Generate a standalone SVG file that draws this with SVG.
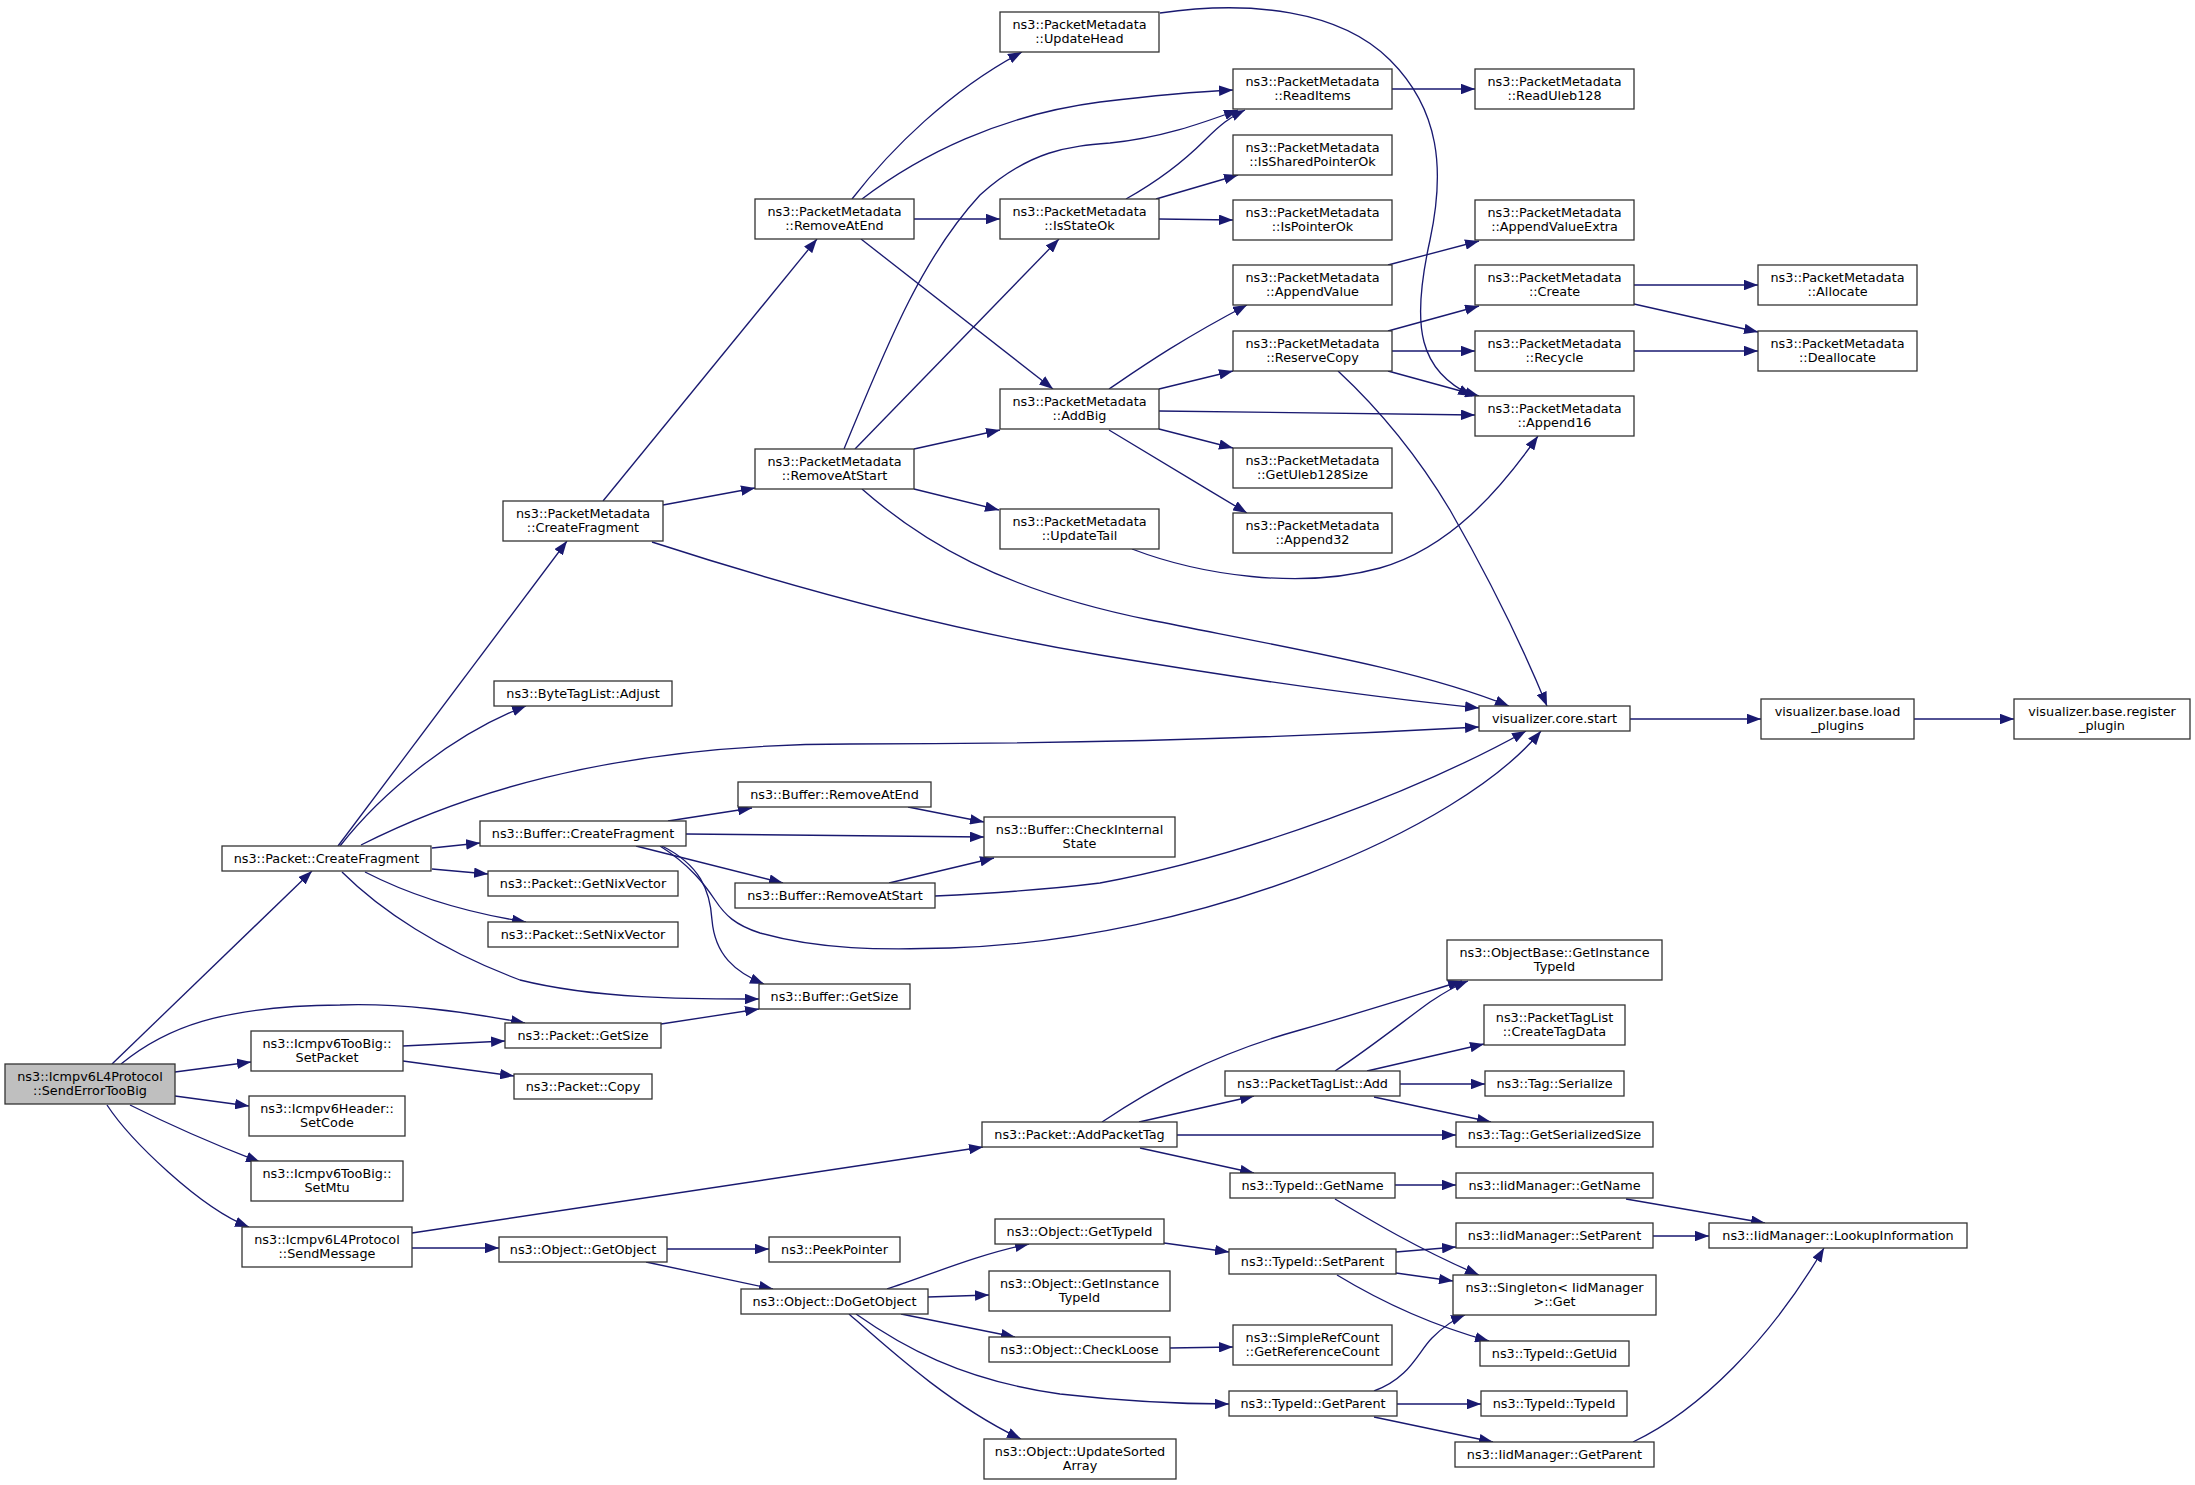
<svg xmlns="http://www.w3.org/2000/svg" width="2195" height="1485" viewBox="0 0 2195 1485">
<defs>
<marker id="a" viewBox="0 0 14 10.5" markerWidth="14" markerHeight="10.5" refX="14" refY="5.25" orient="auto" markerUnits="userSpaceOnUse"><path d="M0,0L14,5.25L0,10.5z" fill="#191970"/></marker>
</defs>
<style>
.n rect{fill:#ffffff;stroke:#333333;stroke-width:1.3}
.n.root rect{fill:#bfbfbf}
.n text{font-family:"DejaVu Sans",sans-serif;font-size:12.8px;text-anchor:middle;fill:#000000}
#edges path{fill:none;stroke:#191970;stroke-width:1.33;marker-end:url(#a)}
</style>
<rect x="0" y="0" width="2195" height="1485" fill="#ffffff"/>
<g id="edges">
<path d="M112,1064 L312,871"/>
<path d="M121,1064 C165,1028 220,1006 340,1005 C400,1003 460,1011 525,1023"/>
<path d="M175,1072 L251,1062"/>
<path d="M175,1096 L249,1106"/>
<path d="M130,1105 C160,1120 200,1139 260,1162"/>
<path d="M107,1105 C130,1140 200,1208 249,1227"/>
<path d="M403,1046 L505,1041"/>
<path d="M403,1061 L514,1076"/>
<path d="M661,1024 L759,1009"/>
<path d="M412,1233 L983,1147"/>
<path d="M412,1248 L499,1248"/>
<path d="M667,1249 L769,1249"/>
<path d="M646,1262 L773,1289"/>
<path d="M887,1289 C925,1277 975,1255 1029,1244"/>
<path d="M928,1297 L989,1295"/>
<path d="M901,1314 L1015,1337"/>
<path d="M856,1314 C900,1345 960,1380 1060,1394 C1130,1402 1180,1404 1229,1404"/>
<path d="M849,1314 C890,1350 950,1405 1021,1439"/>
<path d="M1164,1243 L1229,1252"/>
<path d="M1170,1348 L1233,1347"/>
<path d="M1102,1122 C1150,1090 1210,1055 1300,1030 C1360,1013 1410,997 1462,981"/>
<path d="M1335,1071 C1370,1048 1405,1020 1430,1002 C1445,992 1455,986 1468,981"/>
<path d="M1139,1122 L1254,1096"/>
<path d="M1177,1135 L1456,1135"/>
<path d="M1140,1148 L1254,1173"/>
<path d="M1367,1071 L1484,1044"/>
<path d="M1400,1084 L1485,1084"/>
<path d="M1374,1097 L1491,1122"/>
<path d="M1395,1185 L1456,1185"/>
<path d="M1335,1199 C1370,1220 1420,1250 1479,1275"/>
<path d="M1396,1252 L1456,1247"/>
<path d="M1396,1273 L1453,1281"/>
<path d="M1337,1275 C1370,1295 1420,1322 1489,1341"/>
<path d="M1626,1199 L1765,1223"/>
<path d="M1653,1236 L1709,1236"/>
<path d="M1374,1391 C1410,1378 1418,1352 1432,1338 C1442,1328 1452,1320 1465,1315"/>
<path d="M1397,1404 L1481,1404"/>
<path d="M1374,1417 L1493,1442"/>
<path d="M1633,1442 C1700,1410 1770,1340 1824,1248"/>
<path d="M338,846 L567,541"/>
<path d="M340,846 C380,795 450,735 526,706"/>
<path d="M361,845 C450,800 600,744 850,744 C1100,744 1300,737 1479,727"/>
<path d="M432,848 L480,843"/>
<path d="M432,869 L488,874"/>
<path d="M365,872 C400,890 450,910 526,922"/>
<path d="M342,872 C380,910 440,950 520,980 C600,1000 700,999 759,999"/>
<path d="M668,821 L752,808"/>
<path d="M686,834 L984,837"/>
<path d="M636,846 L783,883"/>
<path d="M660,846 C690,865 705,885 715,900 C725,915 735,925 760,933 C820,950 880,950 950,948 C1200,940 1460,830 1541,731"/>
<path d="M662,846 C700,865 710,890 712,920 C715,955 735,972 764,984"/>
<path d="M908,807 L984,822"/>
<path d="M889,883 L994,858"/>
<path d="M935,896 C1000,893 1060,888 1100,883 C1250,855 1420,790 1526,731"/>
<path d="M603,501 L817,239"/>
<path d="M663,505 L755,488"/>
<path d="M652,542 C800,590 950,630 1100,655 C1250,680 1380,698 1479,708"/>
<path d="M852,199 C890,150 950,90 1022,52"/>
<path d="M862,199 C920,155 1000,115 1100,102 C1150,96 1190,92 1233,90"/>
<path d="M914,219 L1000,219"/>
<path d="M861,239 L1053,389"/>
<path d="M844,449 C885,350 920,260 980,195 C1030,150 1070,146 1110,143 C1160,138 1200,124 1238,110"/>
<path d="M855,449 L1059,239"/>
<path d="M914,449 L1000,430"/>
<path d="M914,489 L999,510"/>
<path d="M862,489 C920,540 1000,590 1150,620 C1300,650 1420,670 1509,706"/>
<path d="M1338,371 C1380,410 1420,460 1450,510 C1490,580 1520,640 1547,706"/>
<path d="M1126,199 C1160,180 1185,160 1205,140 C1220,125 1230,117 1245,110"/>
<path d="M1156,199 L1238,175"/>
<path d="M1159,219 L1233,220"/>
<path d="M1392,89 L1475,89"/>
<path d="M1160,13 C1250,0 1340,10 1390,60 C1440,110 1445,170 1430,240 C1410,330 1420,370 1472,396"/>
<path d="M1109,389 C1140,368 1180,340 1247,305"/>
<path d="M1159,389 L1233,371"/>
<path d="M1159,411 L1475,415"/>
<path d="M1159,429 L1233,448"/>
<path d="M1109,430 C1150,455 1200,485 1247,513"/>
<path d="M1132,549 C1200,575 1300,590 1380,568 C1450,548 1500,490 1538,436"/>
<path d="M1388,265 L1479,241"/>
<path d="M1388,331 L1479,306"/>
<path d="M1392,351 L1475,351"/>
<path d="M1388,371 L1479,396"/>
<path d="M1634,285 L1758,285"/>
<path d="M1634,304 L1758,332"/>
<path d="M1634,351 L1758,351"/>
<path d="M1630,719 L1761,719"/>
<path d="M1914,719 L2014,719"/>
</g>
<g id="n0" class="n root"><rect x="5" y="1064" width="170" height="40"/><text x="90" y="1080.5">ns3::Icmpv6L4Protocol</text><text x="90" y="1094.5">::SendErrorTooBig</text></g>
<g id="n1" class="n"><rect x="222" y="846" width="209" height="25"/><text x="326.5" y="863">ns3::Packet::CreateFragment</text></g>
<g id="n2" class="n"><rect x="251" y="1031" width="152" height="40"/><text x="327" y="1047.5">ns3::Icmpv6TooBig::</text><text x="327" y="1061.5">SetPacket</text></g>
<g id="n3" class="n"><rect x="249" y="1096" width="156" height="40"/><text x="327" y="1112.5">ns3::Icmpv6Header::</text><text x="327" y="1126.5">SetCode</text></g>
<g id="n4" class="n"><rect x="251" y="1161" width="152" height="40"/><text x="327" y="1177.5">ns3::Icmpv6TooBig::</text><text x="327" y="1191.5">SetMtu</text></g>
<g id="n5" class="n"><rect x="242" y="1227" width="170" height="40"/><text x="327" y="1243.5">ns3::Icmpv6L4Protocol</text><text x="327" y="1257.5">::SendMessage</text></g>
<g id="n6" class="n"><rect x="503" y="501" width="160" height="40"/><text x="583" y="517.5">ns3::PacketMetadata</text><text x="583" y="531.5">::CreateFragment</text></g>
<g id="n7" class="n"><rect x="494" y="681" width="178" height="25"/><text x="583" y="698">ns3::ByteTagList::Adjust</text></g>
<g id="n8" class="n"><rect x="480" y="821" width="206" height="25"/><text x="583" y="838">ns3::Buffer::CreateFragment</text></g>
<g id="n9" class="n"><rect x="488" y="871" width="190" height="25"/><text x="583" y="888">ns3::Packet::GetNixVector</text></g>
<g id="n10" class="n"><rect x="488" y="922" width="190" height="25"/><text x="583" y="939">ns3::Packet::SetNixVector</text></g>
<g id="n11" class="n"><rect x="505" y="1023" width="156" height="25"/><text x="583" y="1040">ns3::Packet::GetSize</text></g>
<g id="n12" class="n"><rect x="514" y="1074" width="138" height="25"/><text x="583" y="1091">ns3::Packet::Copy</text></g>
<g id="n13" class="n"><rect x="499" y="1237" width="168" height="25"/><text x="583" y="1254">ns3::Object::GetObject</text></g>
<g id="n14" class="n"><rect x="755" y="199" width="159" height="40"/><text x="834.5" y="215.5">ns3::PacketMetadata</text><text x="834.5" y="229.5">::RemoveAtEnd</text></g>
<g id="n15" class="n"><rect x="755" y="449" width="159" height="40"/><text x="834.5" y="465.5">ns3::PacketMetadata</text><text x="834.5" y="479.5">::RemoveAtStart</text></g>
<g id="n16" class="n"><rect x="738" y="782" width="193" height="25"/><text x="834.5" y="799">ns3::Buffer::RemoveAtEnd</text></g>
<g id="n17" class="n"><rect x="735" y="883" width="200" height="25"/><text x="835" y="900">ns3::Buffer::RemoveAtStart</text></g>
<g id="n18" class="n"><rect x="759" y="984" width="151" height="25"/><text x="834.5" y="1001">ns3::Buffer::GetSize</text></g>
<g id="n19" class="n"><rect x="769" y="1237" width="131" height="25"/><text x="834.5" y="1254">ns3::PeekPointer</text></g>
<g id="n20" class="n"><rect x="741" y="1289" width="187" height="25"/><text x="834.5" y="1306">ns3::Object::DoGetObject</text></g>
<g id="n21" class="n"><rect x="1000" y="12" width="159" height="40"/><text x="1079.5" y="28.5">ns3::PacketMetadata</text><text x="1079.5" y="42.5">::UpdateHead</text></g>
<g id="n22" class="n"><rect x="1000" y="199" width="159" height="40"/><text x="1079.5" y="215.5">ns3::PacketMetadata</text><text x="1079.5" y="229.5">::IsStateOk</text></g>
<g id="n23" class="n"><rect x="1000" y="389" width="159" height="40"/><text x="1079.5" y="405.5">ns3::PacketMetadata</text><text x="1079.5" y="419.5">::AddBig</text></g>
<g id="n24" class="n"><rect x="1000" y="509" width="159" height="40"/><text x="1079.5" y="525.5">ns3::PacketMetadata</text><text x="1079.5" y="539.5">::UpdateTail</text></g>
<g id="n25" class="n"><rect x="984" y="817" width="191" height="40"/><text x="1079.5" y="833.5">ns3::Buffer::CheckInternal</text><text x="1079.5" y="847.5">State</text></g>
<g id="n26" class="n"><rect x="982" y="1122" width="195" height="25"/><text x="1079.5" y="1139">ns3::Packet::AddPacketTag</text></g>
<g id="n27" class="n"><rect x="995" y="1219" width="169" height="25"/><text x="1079.5" y="1236">ns3::Object::GetTypeId</text></g>
<g id="n28" class="n"><rect x="989" y="1271" width="181" height="40"/><text x="1079.5" y="1287.5">ns3::Object::GetInstance</text><text x="1079.5" y="1301.5">TypeId</text></g>
<g id="n29" class="n"><rect x="989" y="1337" width="181" height="25"/><text x="1079.5" y="1354">ns3::Object::CheckLoose</text></g>
<g id="n30" class="n"><rect x="984" y="1439" width="192" height="40"/><text x="1080" y="1455.5">ns3::Object::UpdateSorted</text><text x="1080" y="1469.5">Array</text></g>
<g id="n31" class="n"><rect x="1233" y="69" width="159" height="40"/><text x="1312.5" y="85.5">ns3::PacketMetadata</text><text x="1312.5" y="99.5">::ReadItems</text></g>
<g id="n32" class="n"><rect x="1233" y="135" width="159" height="40"/><text x="1312.5" y="151.5">ns3::PacketMetadata</text><text x="1312.5" y="165.5">::IsSharedPointerOk</text></g>
<g id="n33" class="n"><rect x="1233" y="200" width="159" height="40"/><text x="1312.5" y="216.5">ns3::PacketMetadata</text><text x="1312.5" y="230.5">::IsPointerOk</text></g>
<g id="n34" class="n"><rect x="1233" y="265" width="159" height="40"/><text x="1312.5" y="281.5">ns3::PacketMetadata</text><text x="1312.5" y="295.5">::AppendValue</text></g>
<g id="n35" class="n"><rect x="1233" y="331" width="159" height="40"/><text x="1312.5" y="347.5">ns3::PacketMetadata</text><text x="1312.5" y="361.5">::ReserveCopy</text></g>
<g id="n36" class="n"><rect x="1233" y="448" width="159" height="40"/><text x="1312.5" y="464.5">ns3::PacketMetadata</text><text x="1312.5" y="478.5">::GetUleb128Size</text></g>
<g id="n37" class="n"><rect x="1233" y="513" width="159" height="40"/><text x="1312.5" y="529.5">ns3::PacketMetadata</text><text x="1312.5" y="543.5">::Append32</text></g>
<g id="n38" class="n"><rect x="1225" y="1071" width="175" height="25"/><text x="1312.5" y="1088">ns3::PacketTagList::Add</text></g>
<g id="n39" class="n"><rect x="1230" y="1173" width="165" height="25"/><text x="1312.5" y="1190">ns3::TypeId::GetName</text></g>
<g id="n40" class="n"><rect x="1229" y="1249" width="167" height="25"/><text x="1312.5" y="1266">ns3::TypeId::SetParent</text></g>
<g id="n41" class="n"><rect x="1233" y="1325" width="159" height="40"/><text x="1312.5" y="1341.5">ns3::SimpleRefCount</text><text x="1312.5" y="1355.5">::GetReferenceCount</text></g>
<g id="n42" class="n"><rect x="1229" y="1391" width="168" height="25"/><text x="1313" y="1408">ns3::TypeId::GetParent</text></g>
<g id="n43" class="n"><rect x="1475" y="69" width="159" height="40"/><text x="1554.5" y="85.5">ns3::PacketMetadata</text><text x="1554.5" y="99.5">::ReadUleb128</text></g>
<g id="n44" class="n"><rect x="1475" y="200" width="159" height="40"/><text x="1554.5" y="216.5">ns3::PacketMetadata</text><text x="1554.5" y="230.5">::AppendValueExtra</text></g>
<g id="n45" class="n"><rect x="1475" y="265" width="159" height="40"/><text x="1554.5" y="281.5">ns3::PacketMetadata</text><text x="1554.5" y="295.5">::Create</text></g>
<g id="n46" class="n"><rect x="1475" y="331" width="159" height="40"/><text x="1554.5" y="347.5">ns3::PacketMetadata</text><text x="1554.5" y="361.5">::Recycle</text></g>
<g id="n47" class="n"><rect x="1475" y="396" width="159" height="40"/><text x="1554.5" y="412.5">ns3::PacketMetadata</text><text x="1554.5" y="426.5">::Append16</text></g>
<g id="n48" class="n"><rect x="1479" y="706" width="151" height="25"/><text x="1554.5" y="723">visualizer.core.start</text></g>
<g id="n49" class="n"><rect x="1447" y="940" width="215" height="40"/><text x="1554.5" y="956.5">ns3::ObjectBase::GetInstance</text><text x="1554.5" y="970.5">TypeId</text></g>
<g id="n50" class="n"><rect x="1484" y="1005" width="141" height="40"/><text x="1554.5" y="1021.5">ns3::PacketTagList</text><text x="1554.5" y="1035.5">::CreateTagData</text></g>
<g id="n51" class="n"><rect x="1485" y="1071" width="139" height="25"/><text x="1554.5" y="1088">ns3::Tag::Serialize</text></g>
<g id="n52" class="n"><rect x="1456" y="1122" width="197" height="25"/><text x="1554.5" y="1139">ns3::Tag::GetSerializedSize</text></g>
<g id="n53" class="n"><rect x="1456" y="1173" width="197" height="25"/><text x="1554.5" y="1190">ns3::IidManager::GetName</text></g>
<g id="n54" class="n"><rect x="1456" y="1223" width="197" height="25"/><text x="1554.5" y="1240">ns3::IidManager::SetParent</text></g>
<g id="n55" class="n"><rect x="1453" y="1275" width="203" height="40"/><text x="1554.5" y="1291.5">ns3::Singleton&lt; IidManager</text><text x="1554.5" y="1305.5">&gt;::Get</text></g>
<g id="n56" class="n"><rect x="1480" y="1341" width="149" height="25"/><text x="1554.5" y="1358">ns3::TypeId::GetUid</text></g>
<g id="n57" class="n"><rect x="1481" y="1391" width="146" height="25"/><text x="1554" y="1408">ns3::TypeId::TypeId</text></g>
<g id="n58" class="n"><rect x="1455" y="1442" width="199" height="25"/><text x="1554.5" y="1459">ns3::IidManager::GetParent</text></g>
<g id="n59" class="n"><rect x="1758" y="265" width="159" height="40"/><text x="1837.5" y="281.5">ns3::PacketMetadata</text><text x="1837.5" y="295.5">::Allocate</text></g>
<g id="n60" class="n"><rect x="1758" y="331" width="159" height="40"/><text x="1837.5" y="347.5">ns3::PacketMetadata</text><text x="1837.5" y="361.5">::Deallocate</text></g>
<g id="n61" class="n"><rect x="1761" y="699" width="153" height="40"/><text x="1837.5" y="715.5">visualizer.base.load</text><text x="1837.5" y="729.5">_plugins</text></g>
<g id="n62" class="n"><rect x="1709" y="1223" width="258" height="25"/><text x="1838" y="1240">ns3::IidManager::LookupInformation</text></g>
<g id="n63" class="n"><rect x="2014" y="699" width="176" height="40"/><text x="2102" y="715.5">visualizer.base.register</text><text x="2102" y="729.5">_plugin</text></g>
</svg>
